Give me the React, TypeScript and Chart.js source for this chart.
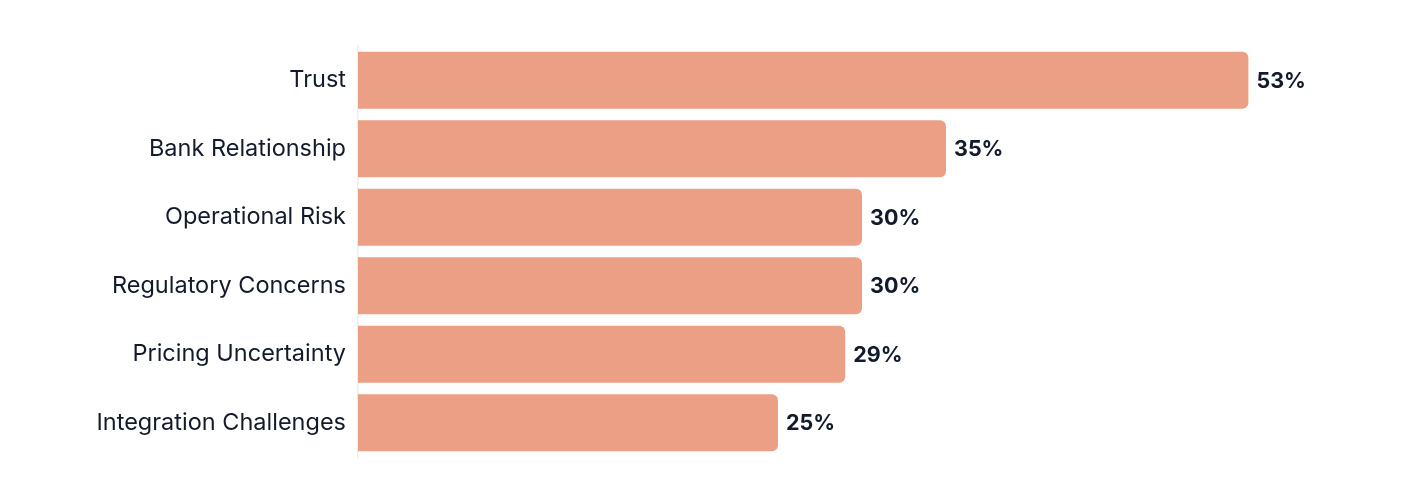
import React, { useEffect, useRef } from "react";
import { Chart, registerables } from "chart.js";

Chart.register(...registerables);

const categories = [
  "Trust",
  "Bank Relationship",
  "Operational Risk",
  "Regulatory Concerns",
  "Pricing Uncertainty",
  "Integration Challenges",
];
const values = [53, 35, 30, 30, 29, 25];

const FONT = "Inter, 'Noto Sans', sans-serif";
const TEXT = "#131a2b";

const valueLabels = {
  id: "valueLabels",
  afterDatasetsDraw(chart: any) {
    const ctx = chart.ctx;
    const meta = chart.getDatasetMeta(0);
    ctx.save();
    ctx.font = `700 21.5px ${FONT}`;
    ctx.fillStyle = TEXT;
    ctx.textAlign = "left";
    ctx.textBaseline = "middle";
    meta.data.forEach((bar: any, i: number) => {
      ctx.fillText(`${values[i]}%`, bar.x + 8, bar.y + 1);
    });
    ctx.restore();
  },
};

export default function App() {
  const ref = useRef<HTMLCanvasElement | null>(null);
  useEffect(() => {
    if (!ref.current) return;
    const chart = new Chart(ref.current, {
      type: "bar",
      data: {
        labels: categories,
        datasets: [
          {
            data: values,
            backgroundColor: "#eba085",
            borderRadius: 6,
            borderSkipped: "start",
            barPercentage: 0.83,
            categoryPercentage: 1,
          },
        ],
      },
      options: {
        indexAxis: "y",
        animation: false,
        responsive: true,
        maintainAspectRatio: false,
        layout: { padding: { top: 38, bottom: 29, left: 0, right: 42 } },
        plugins: { legend: { display: false }, tooltip: { enabled: false } },
        scales: {
          x: {
            min: 0,
            max: 60,
            display: false,
          },
          y: {
            afterFit: (scale: any) => {
              scale.width = 350;
            },
            grid: { display: false },
            border: { display: true, color: "#eeeeee", width: 1.5 },
            ticks: {
              padding: 4,
              color: TEXT,
              font: { family: FONT, size: 23.5, weight: 400 },
            },
          },
        },
      },
      plugins: [valueLabels],
    });
    return () => chart.destroy();
  }, []);
  return (
    <div style={{ width: "100%", height: 478, position: "relative" }}>
      <canvas ref={ref} />
    </div>
  );
}
